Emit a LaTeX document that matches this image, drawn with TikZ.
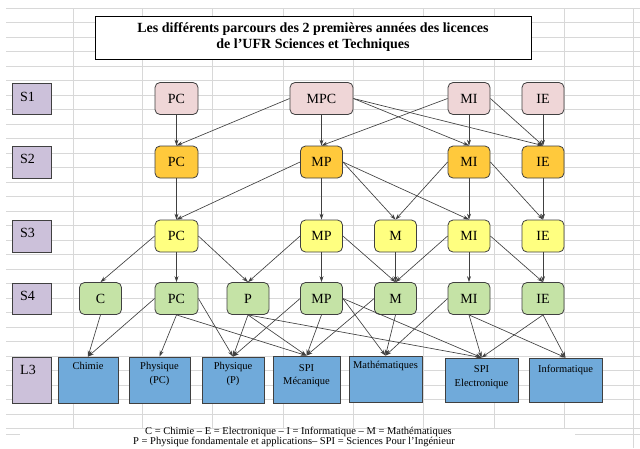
\documentclass[tikz,border=0pt]{standalone}
\usepackage{fontspec}
\setmainfont{Liberation Serif}
\usetikzlibrary{arrows.meta}
\definecolor{gridc}{HTML}{D8D8D8}
\definecolor{bordc}{HTML}{404040}
\definecolor{purplec}{HTML}{CCC1DA}
\definecolor{pinkc}{HTML}{EFD6D7}
\definecolor{orangec}{HTML}{FFC93C}
\definecolor{yellowc}{HTML}{FFFF80}
\definecolor{greenc}{HTML}{C5E3A6}
\definecolor{bluec}{HTML}{70AADA}
\tikzset{
  gridline/.style={draw=gridc, line width=0.8pt},
  semnode/.style={rectangle, draw=bordc, line width=0.8pt, rounded corners=5pt,
    minimum width=42pt, minimum height=32pt, inner sep=0pt,
    font=\fontsize{14}{16}\selectfont},
  s1node/.style={semnode, fill=pinkc},
  s2node/.style={semnode, fill=orangec},
  s3node/.style={semnode, fill=yellowc},
  s4node/.style={semnode, fill=greenc},
  l3box/.style={rectangle, draw=bordc, line width=0.8pt, fill=bluec,
    minimum height=46pt, inner sep=0pt},
  l3text/.style={inner sep=0pt, align=center,
    font=\fontsize{10.5}{13.5}\selectfont},
  sembox/.style={rectangle, draw=bordc, line width=0.8pt, fill=purplec,
    minimum width=39pt, minimum height=31pt, inner sep=0pt},
  semtext/.style={inner sep=0pt, anchor=base west, font=\fontsize{14}{16}\selectfont},
  arr/.style={draw=bordc, line width=0.65pt, -{Stealth[length=6pt,width=4pt]}},
  legendtext/.style={inner sep=0pt, anchor=base, font=\fontsize{10.5}{12}\selectfont},
}
\begin{document}
\begin{tikzpicture}[x=1pt,y=-1pt]
\useasboundingbox (0,0) rectangle (640,448);
\fill[white] (0,0) rectangle (640,448);
% spreadsheet grid
\foreach \k in {0,...,29} \draw[gridline] (6,{8+14.5*\k}) -- (640,{8+14.5*\k});
\foreach \x in {73,142,212,283,353,423,494,564} \draw[gridline] (\x,8) -- (\x,428);
\draw[gridline] (633,8) -- (633,448);
\draw[gridline] (6,434) -- (20,434);
\draw[gridline] (575,434) -- (640,434);

% title
\node[rectangle, draw=black, line width=0.8pt, fill=white, minimum width=436pt,
  minimum height=43pt, align=center, inner sep=0pt,
  font=\bfseries\fontsize{14}{16}\selectfont] (title) at (313,37.5)
  {Les différents parcours des 2 premières années des licences\\de l’UFR Sciences et Techniques};

% semester boxes
\node[sembox] (bS1) at (31.5,98.5) {};
\node[sembox, minimum height=32pt] (bS2) at (31.5,162) {};
\node[sembox, minimum height=32pt] (bS3) at (31.5,236) {};
\node[sembox] (bS4) at (31.5,298.5) {};
\node[sembox, minimum height=46pt] (bL3) at (31.5,380) {};
\node[semtext] (tS1) at (20,101) {S1};
\node[semtext] (tS2) at (20,163.5) {S2};
\node[semtext] (tS3) at (20,237.5) {S3};
\node[semtext] (tS4) at (20,300.5) {S4};
\node[semtext] (tL3) at (20,374.5) {L3};

% S1
\node[s1node, minimum width=43pt] (a1) at (176.5,98.5) {PC};
\node[s1node, minimum width=63pt] (a2) at (321.5,98.5) {MPC};
\node[s1node] (a3) at (469,98.5) {MI};
\node[s1node] (a4) at (543,98.5) {IE};
% S2
\node[s2node, minimum width=43pt] (b1) at (176.5,162) {PC};
\node[s2node] (b2) at (321.5,162) {MP};
\node[s2node] (b3) at (469,162) {MI};
\node[s2node] (b4) at (543,162) {IE};
% S3
\node[s3node, minimum width=43pt] (c1) at (176.5,236) {PC};
\node[s3node] (c2) at (321.5,236) {MP};
\node[s3node] (c3) at (395.5,236) {M};
\node[s3node] (c4) at (469,236) {MI};
\node[s3node] (c5) at (543,236) {IE};
% S4
\node[s4node] (d0) at (100.5,298.5) {C};
\node[s4node, minimum width=43pt] (d1) at (176.5,298.5) {PC};
\node[s4node] (d2) at (248,298.5) {P};
\node[s4node] (d3) at (321.5,298.5) {MP};
\node[s4node] (d4) at (395.5,298.5) {M};
\node[s4node] (d5) at (469,298.5) {MI};
\node[s4node] (d6) at (543,298.5) {IE};
% L3
\node[l3box, minimum width=60pt] (e1) at (88,380) {};
\node[l3box, minimum width=61pt] (e2) at (159.5,380) {};
\node[l3box, minimum width=62pt] (e3) at (233,380) {};
\node[l3box, minimum width=67pt, minimum height=47pt] (e4) at (306.5,379.5) {};
\node[l3box, minimum width=73pt] (e5) at (385.5,379) {};
\node[l3box, minimum width=73pt, minimum height=44pt] (e6) at (481.5,380) {};
\node[l3box, minimum width=73pt, minimum height=44pt] (e7) at (565.5,380) {};
\node[l3text, anchor=north] (t1) at ([yshift=-5.5pt]e1.north) {Chimie};
\node[l3text, anchor=north] (t2) at ([yshift=-5.5pt]e2.north) {Physique\\(PC)};
\node[l3text, anchor=north] (t3) at ([yshift=-5.5pt]e3.north) {Physique\\(P)};
\node[l3text, anchor=north] (t4) at ([yshift=-8.5pt]e4.north) {SPI\\Mécanique};
\node[l3text, anchor=north] (t5) at ([yshift=-5.5pt]e5.north) {Mathématiques};
\node[l3text, anchor=north] (t6) at ([yshift=-8pt]e6.north) {SPI\\Electronique};
\node[l3text, anchor=north] (t7) at ([yshift=-7pt]e7.north) {Informatique};

% S1 -> S2
\draw[arr] (a1.south) -- (b1.north);
\draw[arr] (a2.west) -- (b1.north);
\draw[arr] (a2.south) -- (b2.north);
\draw[arr] (a2.east) -- (b3.north);
\draw[arr] (a2.east) -- (b4.north);
\draw[arr] (a3.west) -- (b2.north);
\draw[arr] (a3.south) -- (b3.north);
\draw[arr] (a3.east) -- (b4.north);
\draw[arr] (a4.south) -- (b4.north);
% S2 -> S3
\draw[arr] (b1.south) -- (c1.north);
\draw[arr] (b2.west) -- (c1.north);
\draw[arr] (b2.south) -- (c2.north);
\draw[arr] (b2.east) -- (c3.north);
\draw[arr] (b2.east) -- (c4.north);
\draw[arr] (b3.west) -- (c3.north);
\draw[arr] (b3.south) -- (c4.north);
\draw[arr] (b3.east) -- (c5.north);
\draw[arr] (b4.south) -- (c5.north);
% S3 -> S4
\draw[arr] (c1.west) -- (d0.north);
\draw[arr] (c1.south) -- (d1.north);
\draw[arr] (c1.east) -- (d2.north);
\draw[arr] (c2.west) -- (d2.north);
\draw[arr] (c2.south) -- (d3.north);
\draw[arr] (c2.east) -- (d4.north);
\draw[arr] (c3.south) -- (d4.north);
\draw[arr] (c4.west) -- (d4.north);
\draw[arr] (c4.south) -- (d5.north);
\draw[arr] (c4.east) -- (d6.north);
\draw[arr] (c5.south) -- (d6.north);
% S4 -> L3
\draw[arr] (d0.south) -- (e1.north);
\draw[arr] (d1.west) -- (e1.north);
\draw[arr] (d1.south) -- (e2.north);
\draw[arr] (d1.east) -- (e3.north);
\draw[arr] (d1.south) -- (e4.north);
\draw[arr] (d2.south) -- (e3.north);
\draw[arr] (d2.south) -- (e4.north);
\draw[arr] (d2.south) -- (e6.north);
\draw[arr] (d3.west) -- (e3.north);
\draw[arr] (d3.south) -- (e4.north);
\draw[arr] (d3.east) -- (e5.north);
\draw[arr] (d3.east) -- (e6.north);
\draw[arr] (d4.west) -- (e4.north);
\draw[arr] (d4.south) -- (e5.north);
\draw[arr] (d5.west) -- (e5.north);
\draw[arr] (d5.south) -- (e6.north);
\draw[arr] (d5.south) -- (e7.north);
\draw[arr] (d6.south) -- (e6.north);
\draw[arr] (d6.south) -- (e7.north);

% legend
\node[legendtext] (leg1) at (298.5,434) {C = Chimie – E = Electronique – I = Informatique – M = Mathématiques};
\node[legendtext] (leg2) at (294,444.3) {P = Physique fondamentale et applications– SPI = Sciences Pour l’Ingénieur};
\end{tikzpicture}
\end{document}
